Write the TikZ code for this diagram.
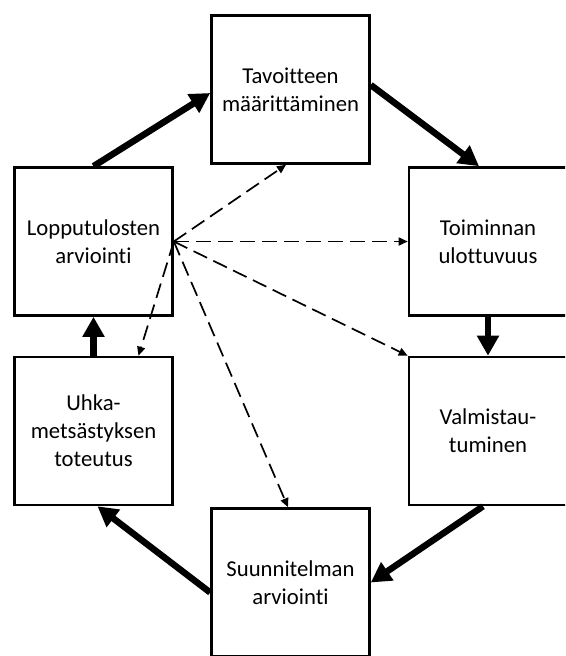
\documentclass[tikz,border=0pt]{standalone}
\usepackage{fontspec}
\setmainfont{Carlito}[RawFeature=-liga]
\usetikzlibrary{arrows.meta,calc}
\begin{document}
\begin{tikzpicture}[x=1pt,y=-1pt,
  box/.style={draw,line width=2.6pt,minimum width=158pt,minimum height=148pt,
    inner sep=0pt,align=center,font=\fontsize{22.7}{28}\selectfont},
  thick arrow/.style={line width=6.5pt,-{Triangle[length=20pt,width=21pt]}},
  dash arrow/.style={line width=1.7pt,dash pattern=on 15pt off 7pt,-{Triangle[length=9pt,width=8pt]}}]
\useasboundingbox (0,0) rectangle (565,656);
\clip (0,0) rectangle (565,656);
\fill[white] (0,0) rectangle (565,656);
\node[box] (T) at (290.5,89.5) {Tavoitteen\\määrittäminen};
\node[box] (L) at (93.5,241.5) {Lopputulosten\\arviointi};
\node[box] (R) at (488,241.5) {Toiminnan\\ulottuvuus};
\node[box] (U) at (93.5,431) {Uhka-\\metsästyksen\\toteutus};
\node[box] (V) at (488,431) {Valmistau-\\tuminen};
\node[box] (S) at (290.5,582.5) {Suunnitelman\\arviointi};
% cycle arrows
\draw[thick arrow] (L.north) -- ([yshift=-3.5pt]T.west);
\draw[thick arrow] ([yshift=4.5pt]T.east) -- ([xshift=-9pt]R.north);
\draw[thick arrow] (R.south) -- (V.north);
\draw[thick arrow] ([xshift=-5pt]V.south) -- (S.east);
\draw[thick arrow] ([yshift=-10pt]S.west) -- ([xshift=4pt]U.south);
\draw[thick arrow] (U.north) -- (L.south);
% dashed feedback arrows
\draw[dash arrow] (L.east) -- ([xshift=-4.5pt]T.south);
\draw[dash arrow] (L.east) -- (R.west);
\draw[dash arrow] (L.east) -- (V.north west);
\draw[dash arrow] (L.east) -- ([xshift=-2.5pt]S.north);
\draw[dash arrow] (L.east) -- ([xshift=45pt]U.north);
\end{tikzpicture}
\end{document}
